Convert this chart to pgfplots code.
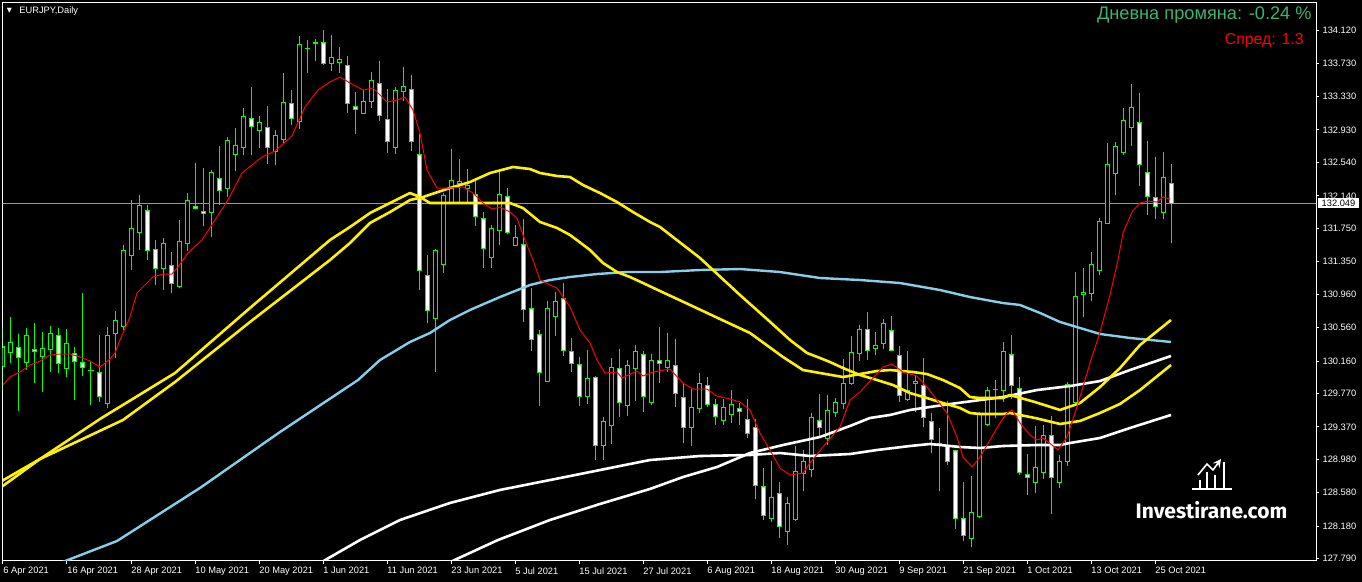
\documentclass[border=0pt]{standalone}
\usepackage{pgfplots}
\pgfplotsset{compat=1.18}
\usepackage{pgfplotstable}
\usepackage{fontspec}
\setmainfont{Liberation Sans}
\newfontfamily\wmfont{Fira Sans}
\newfontfamily\symfont{DejaVu Sans}

\definecolor{mtlime}{RGB}{0,255,0}
\definecolor{mtblue}{RGB}{135,206,235}
\definecolor{mtgray}{RGB}{150,150,150}
\definecolor{infogreen}{RGB}{60,179,113}

% daily candles, x = bar number (0 = 6 Apr 2021)
\pgfplotstableread{
i o h l c
0 130.100 130.568 129.812 130.328
1 130.268 130.688 130.136 130.388
2 130.328 130.484 129.561 130.208
3 130.148 130.556 130.052 130.472
4 130.304 130.616 129.896 130.280
5 130.220 130.508 129.788 130.316
6 130.304 130.580 130.028 130.496
7 130.460 130.556 130.016 130.136
8 130.076 130.544 129.968 130.364
9 130.256 130.328 129.692 130.160
10 130.148 130.975 129.980 130.088
11 130.052 130.148 129.633 130.052
12 130.028 130.472 129.668 129.740
13 129.656 130.568 129.597 130.472
14 130.484 130.760 130.196 130.640
15 130.580 131.551 130.532 131.491
16 131.431 132.090 131.251 131.755
17 131.707 132.150 131.491 132.030
18 131.970 132.030 131.371 131.491
19 131.491 131.611 131.071 131.275
20 131.275 131.635 131.011 131.575
21 131.311 131.467 130.975 131.095
22 131.059 131.850 131.035 131.599
23 131.575 132.174 131.479 132.090
24 132.018 132.534 131.990 131.994
25 131.958 132.474 131.779 131.934
26 131.946 132.450 131.647 132.426
27 132.354 132.738 132.030 132.210
28 132.234 132.846 132.126 132.810
29 132.642 132.953 132.438 132.750
30 132.726 133.193 132.630 133.097
31 133.073 133.445 132.630 132.977
32 132.929 133.097 132.714 133.025
33 132.965 133.217 132.522 132.726
34 132.678 132.929 132.510 132.870
35 132.822 133.613 132.774 133.265
36 133.253 133.409 132.989 133.073
37 133.037 134.056 132.941 133.949
38 133.907 134.008 133.613 133.907
39 133.978 134.020 133.757 133.978
40 133.984 134.128 133.709 133.733
41 133.721 134.068 133.637 133.793
42 133.745 133.925 133.613 133.781
43 133.697 133.817 133.133 133.253
44 133.217 133.385 132.881 133.181
45 133.133 133.409 133.121 133.277
46 133.277 133.625 133.193 133.529
47 133.493 133.757 133.037 133.109
48 133.061 133.421 132.654 132.798
49 132.726 133.445 132.642 133.409
50 133.397 133.685 133.277 133.457
51 133.421 133.589 132.678 132.798
52 132.642 132.881 131.011 131.251
53 131.191 131.431 130.616 130.772
54 130.676 131.503 130.028 131.491
55 131.323 132.174 131.215 132.150
56 132.054 132.702 132.042 132.330
57 132.294 132.582 132.054 132.318
58 132.234 132.462 132.054 132.270
59 132.162 132.330 131.779 131.898
60 131.874 131.946 131.275 131.515
61 131.407 131.791 131.275 131.743
62 131.731 132.438 131.551 132.162
63 132.138 132.234 131.683 131.707
64 131.551 131.791 131.540 131.647
65 131.563 131.862 130.628 130.784
66 130.796 131.035 130.280 130.424
67 130.484 130.532 129.621 130.028
68 129.920 130.879 129.908 130.796
69 130.700 130.987 130.460 130.879
70 130.915 131.095 130.220 130.292
71 130.280 130.436 130.028 130.136
72 130.124 130.208 129.621 129.740
73 129.740 130.292 129.645 129.956
74 129.968 129.975 128.973 129.153
75 129.153 129.489 128.973 129.429
76 129.393 130.196 129.165 130.088
77 130.076 130.304 129.489 129.668
78 129.633 130.172 129.501 130.112
79 130.076 130.352 129.680 130.280
80 130.244 130.280 129.549 129.740
81 129.668 130.244 129.633 130.172
82 130.172 130.568 129.896 130.136
83 130.088 130.496 130.028 130.172
84 130.112 130.424 129.609 129.776
85 129.728 129.884 129.177 129.369
86 129.357 129.824 129.141 129.597
87 129.597 130.016 129.537 129.896
88 129.872 129.968 129.609 129.645
89 129.645 129.704 129.393 129.501
90 129.453 129.704 129.393 129.609
91 129.525 129.812 129.417 129.645
92 129.585 129.656 129.393 129.549
93 129.453 129.704 129.237 129.285
94 129.369 129.465 128.506 128.673
95 128.661 128.877 128.254 128.314
96 128.278 128.961 128.230 128.530
97 128.566 128.709 128.038 128.170
98 128.110 128.530 127.954 128.446
99 128.266 129.141 128.242 128.841
100 128.817 129.093 128.602 128.961
101 128.865 129.537 128.769 129.489
102 129.453 129.764 129.237 129.369
103 129.225 129.752 129.153 129.561
104 129.549 129.716 129.489 129.668
105 129.656 130.184 129.585 129.896
106 129.896 130.460 129.872 130.268
107 130.256 130.592 130.160 130.544
108 130.544 130.748 130.172 130.292
109 130.316 130.508 130.232 130.352
110 130.364 130.664 130.304 130.604
111 130.532 130.700 130.280 130.292
112 130.232 130.340 129.668 129.752
113 129.704 130.280 129.680 129.812
114 129.896 129.980 129.549 129.920
115 129.872 130.196 129.369 129.489
116 129.441 129.537 129.057 129.225
117 129.177 129.357 128.602 129.177
118 129.153 129.680 128.913 128.961
119 129.093 129.100 128.146 128.278
120 128.266 128.709 128.002 128.074
121 128.038 128.781 127.930 128.338
122 128.302 129.549 128.278 129.525
123 129.405 129.848 129.381 129.812
124 129.824 129.932 129.477 129.824
125 129.812 130.388 129.668 130.280
126 130.244 130.472 129.704 129.872
127 129.836 129.968 128.793 128.829
128 128.805 129.045 128.554 128.769
129 128.709 129.381 128.578 128.889
130 128.829 129.393 128.745 129.273
131 129.273 129.501 128.326 128.769
132 128.709 129.033 128.638 128.961
133 128.961 129.908 128.901 129.884
134 129.668 131.227 129.660 130.939
135 130.963 131.275 130.688 130.987
136 130.975 131.467 130.879 131.323
137 131.251 131.874 131.191 131.838
138 131.815 132.774 131.803 132.522
139 132.414 132.786 132.150 132.726
140 132.666 133.193 132.630 133.049
141 132.965 133.481 132.738 133.205
142 133.025 133.373 132.258 132.522
143 132.426 132.798 131.910 132.138
144 132.126 132.606 131.862 132.018
145 131.946 132.666 131.862 132.366
146 132.282 132.522 131.575 132.049
}\ohlc

\begin{document}
\begin{tikzpicture}
% whole image in px (1 px = 0.5pt), axis frame lower left at px (2.7, 560.7)
\begin{scope}[x=0.5pt, y=-0.5pt, shift={(-1.35pt,280.35pt)}]
\path[use as bounding box, fill=black] (0,0) rectangle (1362,582);
\end{scope}

\begin{axis}[
  name=ax,
  scale only axis,
  width=656.65pt, height=279pt,
  xmin=-0.0375, xmax=164.125,
  ymin=127.766, ymax=134.456,
  axis background/.style={fill=black},
  axis line style={white, line width=0.5pt},
  tick align=outside,
  major tick length=1.6pt,
  tick style={white, line width=0.5pt},
  xtick pos=left, ytick pos=right,
  xticklabel pos=left, yticklabel pos=right,
  xtick={0,8,...,144},
  xticklabels={6 Apr 2021, 16 Apr 2021, 28 Apr 2021, 10 May 2021, 20 May 2021,
    1 Jun 2021, 11 Jun 2021, 23 Jun 2021, 5 Jul 2021, 15 Jul 2021, 27 Jul 2021,
    6 Aug 2021, 18 Aug 2021, 30 Aug 2021, 9 Sep 2021, 21 Sep 2021, 1 Oct 2021,
    13 Oct 2021, 25 Oct 2021},
  ytick={127.79,128.18,128.58,128.98,129.37,129.77,130.16,130.56,130.96,
    131.35,131.75,132.14,132.54,132.93,133.33,133.73,134.12},
  yticklabels={127.790,128.180,128.580,128.980,129.370,129.770,130.160,130.560,
    130.960,131.350,131.750,132.140,132.540,132.930,133.330,133.730,134.120},
  ticklabel style={text=white, font=\fontsize{4.65pt}{5pt}\selectfont, inner sep=0pt},
  xticklabel style={anchor=north west, yshift=-1.5pt},
  yticklabel style={anchor=west, xshift=1.5pt},
]
% bid line
\addplot[mtgray, line width=0.5pt] coordinates {(-1,132.049) (166,132.049)};

% wicks
\addplot[draw=none, error bars/.cd, y dir=both, y explicit, error mark=none,
  error bar style={draw=mtlime, line width=0.5pt}]
  table[x=i, y expr={(\thisrow{h}+\thisrow{l})/2}, y error expr={(\thisrow{h}-\thisrow{l})/2}] {\ohlc};
% body outlines
\addplot[draw=none, error bars/.cd, y dir=both, y explicit, error mark=none,
  error bar style={draw=mtlime, line width=2.5pt}]
  table[x=i, y expr={(\thisrow{o}+\thisrow{c})/2}, y error expr={abs(\thisrow{c}-\thisrow{o})/2+0.006}] {\ohlc};
% bull bodies (black)
\addplot[draw=none, restrict y to domain=120:140, error bars/.cd, y dir=both, y explicit, error mark=none,
  error bar style={draw=black, line width=1.5pt}]
  table[x=i, y expr={ifthenelse(\thisrow{c}>\thisrow{o}+0.013,(\thisrow{o}+\thisrow{c})/2,0)},
    y error expr={abs(\thisrow{c}-\thisrow{o})/2-0.006}] {\ohlc};
% bear bodies (white)
\addplot[draw=none, restrict y to domain=120:140, error bars/.cd, y dir=both, y explicit, error mark=none,
  error bar style={draw=white, line width=1.5pt}]
  table[x=i, y expr={ifthenelse(\thisrow{c}<\thisrow{o}-0.013,(\thisrow{o}+\thisrow{c})/2,0)},
    y error expr={abs(\thisrow{c}-\thisrow{o})/2-0.006}] {\ohlc};

% moving averages
\addplot[white, line width=1.3pt, line join=round] coordinates {
(39.625,127.738) (44.625,128.014) (49.625,128.254) (55.875,128.458) (62.125,128.614)
(68.375,128.733) (74.625,128.853) (80.875,128.973) (87.125,129.021) (93.375,129.033)
(97.125,129.057) (100.875,129.021) (105.875,129.045) (109.25,129.093) (113.375,129.141)
(115.875,129.165) (119.625,129.129) (122.125,129.117) (125,129.141) (129.25,129.153)
(132.125,129.153) (133.375,129.177) (137.125,129.237) (140.875,129.357) (146,129.513)};
\addplot[white, line width=1.3pt, line join=round] coordinates {
(55.625,127.738) (61.875,128.014) (68.375,128.254) (74.625,128.446) (80.875,128.626)
(85,128.769) (89.25,128.889) (93.375,129.057) (97.5,129.153) (102.125,129.249)
(105.875,129.381) (108.375,129.477) (110.875,129.513) (113.375,129.573) (115.875,129.609)
(118.375,129.644) (122.125,129.692) (125,129.728) (129.25,129.812) (133.375,129.860)
(137.125,129.920) (140.875,130.052) (146,130.220)};
\addplot[mtblue, line width=1.2pt, line join=round] coordinates {
(7.125,127.738) (14.25,128.002) (24.625,128.638) (34.625,129.309) (44.375,129.932)
(47.125,130.172) (50.875,130.388) (53.375,130.496) (55.875,130.652) (58.375,130.772)
(62.125,130.927) (65.875,131.071) (68.375,131.131) (70.875,131.167) (74.25,131.203)
(78,131.227) (82.125,131.227) (87.125,131.251) (92.125,131.263) (97.125,131.227)
(102.125,131.155) (107.125,131.131) (112.125,131.095) (117.125,131.011) (120.875,130.927)
(125,130.855) (127.125,130.832) (129.625,130.736) (132.125,130.628) (134.625,130.556)
(137.125,130.484) (140.875,130.436) (146,130.388)};
\addplot[yellow, line width=1.3pt, line join=round] coordinates {
(-0.375,128.709) (4.625,128.985) (15,129.453) (21.5,129.908) (30.875,130.628)
(40.875,131.371) (43.375,131.575) (45.875,131.815) (48.375,131.946) (50.875,132.090)
(52.5,132.126) (55.875,132.234) (58.375,132.306) (60.875,132.414) (63.75,132.486)
(65.875,132.462) (67.125,132.414) (69.25,132.378) (70.875,132.366) (72.5,132.270)
(74.625,132.174) (76.75,132.066) (78.75,131.946) (80.875,131.827) (82.125,131.767)
(87.125,131.395) (92.125,130.951) (95.625,130.652) (98.375,130.412) (100.5,130.256)
(102.125,130.196) (103.375,130.148) (105,130.076) (107.125,129.992) (109.25,129.932)
(111.25,129.872) (113.375,129.776) (115.5,129.716) (117.5,129.656) (119.625,129.597)
(120.875,129.537) (122.125,129.525) (125,129.525) (125.875,129.537) (129,129.477)
(132.125,129.405) (134.625,129.441) (137.125,129.537) (139.625,129.645) (142.125,129.812)
(146,130.112)};
\addplot[yellow, line width=1.3pt, line join=round] coordinates {
(-0.375,128.637) (4.625,128.985) (12.125,129.465) (21.5,130.016) (30.875,130.796)
(40.875,131.611) (43.375,131.767) (45.875,131.934) (48.375,132.054) (50.875,132.174)
(52.125,132.126) (53.375,132.054) (62.125,132.054) (63.375,132.054) (65,131.994)
(67.125,131.827) (69.25,131.755) (70.875,131.671) (73.375,131.491) (75,131.335)
(76.75,131.227) (78.375,131.167) (80,131.095) (82.125,130.999) (85.875,130.832)
(89.875,130.652) (93.375,130.496) (97.5,130.208) (100,130.052) (102.125,130.016)
(105,129.968) (107.125,130.004) (109.25,130.040) (110.875,130.052) (113.75,130.028)
(115.5,130.004) (117.5,129.932) (119.625,129.836) (120.875,129.728) (122.125,129.716)
(125,129.716) (125.875,129.752) (129,129.668) (132.125,129.573) (134.625,129.656)
(137.125,129.848) (139.625,130.076) (142.125,130.352) (146,130.652)};
\addplot[red, line width=0.5pt, line join=round] coordinates {
(0,129.872) (0.875,129.968) (2.125,130.028) (3.375,130.112) (4.625,130.160) (5.875,130.232)
(7.125,130.244) (8.375,130.244) (9.625,130.208) (10.875,130.160) (12.125,130.088)
(13.375,130.184) (14,130.256) (14.625,130.412) (15.875,130.688) (16.75,130.975)
(17.5,131.047) (18.75,131.167) (20,131.203) (21.125,131.203) (21.875,131.287)
(23.125,131.455) (24.875,131.611) (26.5,131.850) (28.125,132.090) (29.875,132.414)
(32.375,132.606) (34,132.678) (36.125,132.858) (37.75,133.205) (39.375,133.409)
(40.875,133.505) (42.125,133.565) (43.375,133.493) (45,133.409) (46.25,133.433)
(48,133.265) (49.25,133.289) (50.25,133.325) (51.25,133.169) (52.125,132.893)
(53,132.450) (54.25,132.234) (55.875,132.234) (57.5,132.246) (58.75,132.174)
(60,132.054) (61.125,131.982) (62.125,132.006) (63.375,131.946) (64.25,131.874)
(65,131.671) (66.25,131.371) (67.125,131.131) (68.375,131.071) (69.25,131.035)
(70.875,130.808) (72.125,130.532) (73.375,130.376) (74.25,130.172) (75.25,130.016)
(76.75,130.028) (77.375,129.956) (79.25,130.040) (80,129.980) (81.25,130.028)
(83.375,130.064) (85,129.896) (86.25,129.824) (88,129.824) (89.25,129.740)
(90.875,129.704) (92.125,129.668) (93.375,129.573) (94.625,129.297) (95.875,129.093)
(97.125,128.877) (98.375,128.793) (100,128.817) (100.875,128.937) (102.5,129.129)
(104.625,129.369) (105.875,129.692) (107.125,129.788) (108.75,129.956) (110,130.088)
(111.125,130.124) (112.5,130.028) (114.25,129.980) (115.5,129.848) (116.75,129.692)
(118,129.537) (119.25,129.249) (120,129.009) (121.125,128.889) (122.125,129.009)
(123.375,129.213) (124.625,129.417) (125.5,129.537) (126.125,129.573) (127.125,129.417)
(128.375,129.273) (129.25,129.213) (130,129.237) (131.125,129.153) (131.875,129.093)
(133,129.249) (134.25,129.609) (135.875,130.136) (137.125,130.508) (138.375,130.951)
(139.375,131.371) (140,131.695) (141.125,131.946) (142.125,132.054) (143.125,132.078)
(144.25,132.066) (145,132.126) (145.875,132.102)};
\end{axis}

% texts and watermark, in image px
\begin{scope}[x=0.5pt, y=-0.5pt, shift={(-1.35pt,280.35pt)}]
\node[text=white, inner sep=0pt, font=\symfont\fontsize{3.3pt}{4pt}\selectfont] at (9.5,10.5) {▼};
\node[text=white, anchor=west, inner sep=0pt, font=\fontsize{4.65pt}{5pt}\selectfont] at (19,11) {EURJPY,Daily};
\node[text=infogreen, anchor=east, inner sep=0pt, font=\fontsize{9.1pt}{10pt}\selectfont] at (1312,15) {Дневна промяна: -0.24 \%};
\node[text=red, anchor=east, inner sep=0pt, font=\fontsize{7.9pt}{10pt}\selectfont] at (1304,40.7) {Спред: 1.3};
\fill[white] (1318,198.5) rectangle (1359,208);
\node[text=black, inner sep=0pt, font=\fontsize{4.65pt}{5pt}\selectfont] at (1338.5,203.3) {132.049};
\node[text=white, inner sep=0pt, font=\wmfont\bfseries\fontsize{10.5pt}{12pt}\selectfont] at (1211.5,510) {Investirane.com};
\draw[white, line width=0.8pt] (1192,489) -- (1232,489);
\draw[white, line width=0.8pt] (1200,489) -- (1200,480) (1207,489) -- (1207,472)
  (1215,489) -- (1215,475) (1224,489) -- (1224,462);
\draw[white, line width=0.8pt, line join=round, ->, >=stealth] (1198,475) -- (1207,464) -- (1213,470) -- (1221,459);
\end{scope}
\end{tikzpicture}
\end{document}
